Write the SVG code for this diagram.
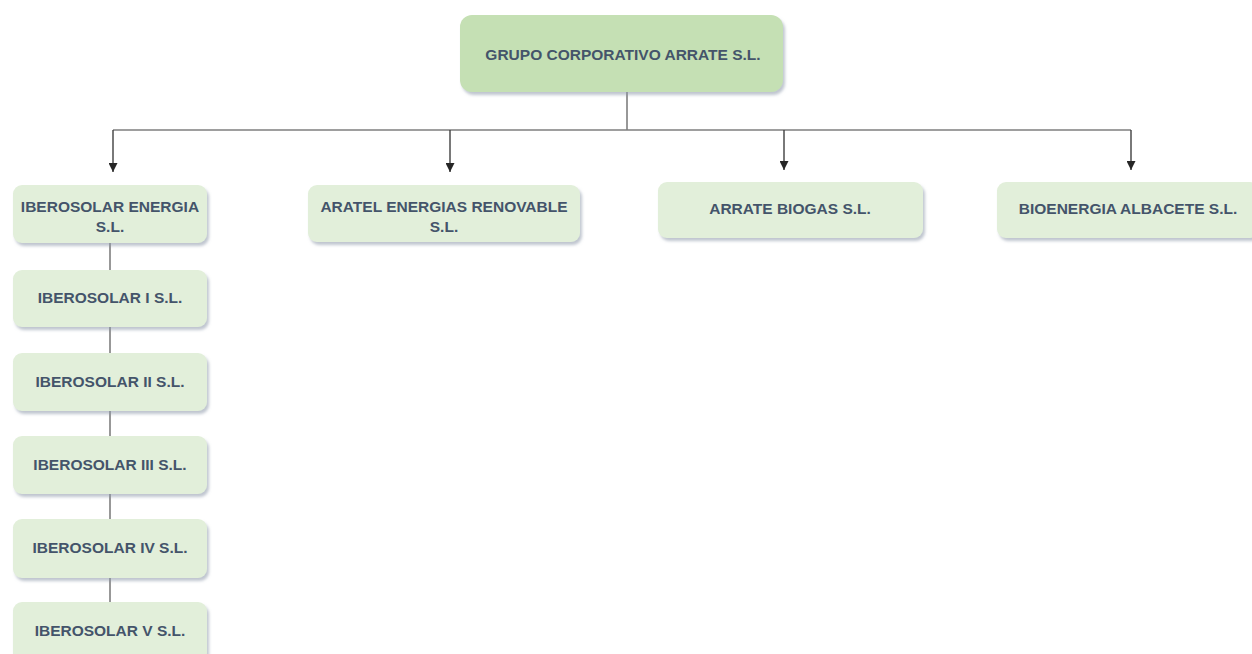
<svg xmlns="http://www.w3.org/2000/svg" width="1252" height="654" viewBox="0 0 1252 654">
<defs>
<filter id="sh" x="-10%" y="-20%" width="120%" height="150%">
<feDropShadow dx="2" dy="3" stdDeviation="1.5" flood-color="#8a96a8" flood-opacity="0.55"/>
</filter>
<marker id="arr" viewBox="0 0 10 10" refX="10" refY="5" markerWidth="9" markerHeight="9" markerUnits="userSpaceOnUse" orient="auto">
<path d="M0,0 L10,5 L0,10 z" fill="#262626"/>
</marker>
<style>
.box{fill:#e2efda;filter:url(#sh);}
.top{fill:#c5e0b4;filter:url(#sh);}
.t{font-family:"Liberation Sans",Arial,sans-serif;font-weight:bold;font-size:15.5px;fill:#44546a;text-anchor:middle;}
.ln{stroke:#7f7f7f;stroke-width:1.6;fill:none;}
.ar{stroke:#404040;stroke-width:1.4;fill:none;marker-end:url(#arr);}
</style>
</defs>
<rect width="1252" height="654" fill="#ffffff"/>
<g id="connectors">
<path class="ln" d="M627,92 V130 M113,130 H1131"/>
<path class="ar" d="M113,130 V172"/>
<path class="ar" d="M450,130 V172"/>
<path class="ar" d="M784,130 V170"/>
<path class="ar" d="M1131,130 V170"/>
<path class="ln" d="M110,243 V270 M110,327 V353 M110,411 V436 M110,494 V519 M110,578 V602"/>
</g>
<g id="n-grupo"><rect class="top" x="460" y="15" width="323" height="77" rx="12"/><text class="t" x="623" y="60">GRUPO CORPORATIVO ARRATE S.L.</text></g>
<g id="n-iberosolar-energia"><rect class="box" x="13" y="185" width="194" height="58" rx="9"/><text class="t" x="110" y="212">IBEROSOLAR ENERGIA</text><text class="t" x="110" y="232">S.L.</text></g>
<g id="n-aratel"><rect class="box" x="308" y="185" width="272" height="57" rx="9"/><text class="t" x="444" y="212">ARATEL ENERGIAS RENOVABLE</text><text class="t" x="444" y="232">S.L.</text></g>
<g id="n-biogas"><rect class="box" x="658" y="182" width="265" height="56" rx="9"/><text class="t" x="790" y="214">ARRATE BIOGAS S.L.</text></g>
<g id="n-albacete"><rect class="box" x="997" y="182" width="262" height="56" rx="9"/><text class="t" x="1128" y="214">BIOENERGIA ALBACETE S.L.</text></g>
<g id="n-ib1"><rect class="box" x="13" y="270" width="194" height="57" rx="9"/><text class="t" x="110" y="303">IBEROSOLAR I S.L.</text></g>
<g id="n-ib2"><rect class="box" x="13" y="353" width="194" height="58" rx="9"/><text class="t" x="110" y="387">IBEROSOLAR II S.L.</text></g>
<g id="n-ib3"><rect class="box" x="13" y="436" width="194" height="58" rx="9"/><text class="t" x="110" y="470">IBEROSOLAR III S.L.</text></g>
<g id="n-ib4"><rect class="box" x="13" y="519" width="194" height="59" rx="9"/><text class="t" x="110" y="553">IBEROSOLAR IV S.L.</text></g>
<g id="n-ib5"><rect class="box" x="13" y="602" width="194" height="60" rx="9"/><text class="t" x="110" y="636">IBEROSOLAR V S.L.</text></g>
</svg>
